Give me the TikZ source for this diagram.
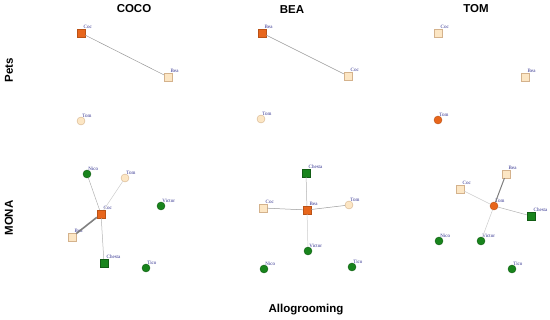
\documentclass[tikz,border=0pt]{standalone}
\usepackage{fontspec}
\setmainfont{Liberation Serif}
\setsansfont{Liberation Sans}
\usepackage{tikz}
\usetikzlibrary{positioning}
\definecolor{focus}{RGB}{232,102,28}
\definecolor{petfill}{RGB}{252,230,196}
\definecolor{petline}{RGB}{212,178,140}
\definecolor{monk}{RGB}{24,132,28}
\definecolor{labblue}{RGB}{44,44,140}
\begin{document}
\begin{tikzpicture}[x=1pt,y=-1pt,
  lab/.style={font=\fontsize{5}{5.5}\selectfont,text=labblue,inner sep=0.3pt,xshift=-2pt},
  sqfoc/.style={draw=focus!80!black,fill=focus,minimum size=8pt,inner sep=0pt},
  sqpet/.style={draw=petline,fill=petfill,minimum size=8pt,inner sep=0pt},
  sqmon/.style={draw=monk!70!black,fill=monk,minimum size=8pt,inner sep=0pt},
  cifoc/.style={circle,draw=focus!80!black,fill=focus,minimum size=8pt,inner sep=0pt},
  cipet/.style={circle,draw=petline,fill=petfill,minimum size=8pt,inner sep=0pt},
  cimon/.style={circle,draw=monk!70!black,fill=monk,minimum size=8pt,inner sep=0pt},
  tie/.style={draw=black!30,line width=0.5pt},
  title/.style={font=\sffamily\bfseries\fontsize{11.5}{13}\selectfont}]
\useasboundingbox (0,0) rectangle (550,320);
% headings
\node[title] (hcoco) at (134,9) {COCO};
\node[title] (hbea) at (292,10) {BEA};
\node[title] (htom) at (476,9) {TOM};
\node[title,rotate=90] (hpets) at (9,70) {Pets};
\node[title,rotate=90] (hmona) at (9,218) {MONA};
\node[title] (hallo) at (306,310) {Allogrooming};
% COCO, pets
\node[sqfoc,label={[lab]north east:Coc}] (cpCoc) at (81,33) {};
\node[sqpet,label={[lab]north east:Bea}] (cpBea) at (168,77) {};
\node[cipet,label={[lab]north east:Tom}] (cpTom) at (81,121) {};
\draw[tie,draw=black!40] (cpCoc) -- (cpBea);
% BEA, pets
\node[sqfoc,label={[lab]north east:Bea}] (bpBea) at (262,33) {};
\node[sqpet,label={[lab]north east:Coc}] (bpCoc) at (348,76) {};
\node[cipet,label={[lab]north east:Tom}] (bpTom) at (261,119) {};
\draw[tie,draw=black!40] (bpBea) -- (bpCoc);
% TOM, pets
\node[sqpet,label={[lab]north east:Coc}] (tpCoc) at (438,33) {};
\node[sqpet,label={[lab]north east:Bea}] (tpBea) at (525,77) {};
\node[cifoc,label={[lab]north east:Tom}] (tpTom) at (438,120) {};
% COCO, MONA
\node[sqfoc,label={[lab]north east:Coc}] (cmCoc) at (101,214) {};
\node[cimon,label={[lab]north east:Nico}] (cmNico) at (87,174) {};
\node[cipet,label={[lab]north east:Tom}] (cmTom) at (125,178) {};
\node[sqpet,label={[lab]north east:Bea}] (cmBea) at (72,237) {};
\node[cimon,label={[lab]north east:Victor}] (cmVictor) at (161,206) {};
\node[sqmon,label={[lab]north east:Chesta}] (cmChesta) at (104,263) {};
\node[cimon,label={[lab]north east:Tico}] (cmTico) at (146,268) {};
\draw[tie] (cmCoc) -- (cmNico);
\draw[tie,draw=black!20] (cmCoc) -- (cmTom);
\draw[tie] (cmCoc) -- (cmChesta);
\draw[tie,draw=black!50,line width=1.6pt] (cmCoc) -- (cmBea);
% BEA, MONA
\node[sqfoc,label={[lab]north east:Bea}] (bmBea) at (307,210) {};
\node[sqmon,label={[lab]north east:Chesta}] (bmChesta) at (306,173) {};
\node[sqpet,label={[lab]north east:Coc}] (bmCoc) at (263,208) {};
\node[cipet,label={[lab]north east:Tom}] (bmTom) at (349,205) {};
\node[cimon,label={[lab]north east:Victor}] (bmVictor) at (308,251) {};
\node[cimon,label={[lab]north east:Nico}] (bmNico) at (264,269) {};
\node[cimon,label={[lab]north east:Tico}] (bmTico) at (352,267) {};
\draw[tie,draw=black!40] (bmBea) -- (bmCoc);
\draw[tie,draw=black!40] (bmBea) -- (bmTom);
\draw[tie] (bmBea) -- (bmChesta);
\draw[tie,draw=black!20] (bmBea) -- (bmVictor);
% TOM, MONA
\node[cifoc,label={[lab]north east:Tom}] (tmTom) at (494,206) {};
\node[sqpet,label={[lab]north east:Bea}] (tmBea) at (506,174) {};
\node[sqpet,label={[lab]north east:Coc}] (tmCoc) at (460,189) {};
\node[sqmon,label={[lab]north east:Chesta}] (tmChesta) at (531,216) {};
\node[cimon,label={[lab]north east:Nico}] (tmNico) at (439,241) {};
\node[cimon,label={[lab]north east:Victor}] (tmVictor) at (481,241) {};
\node[cimon,label={[lab]north east:Tico}] (tmTico) at (512,269) {};
\draw[tie,draw=black!50,line width=1pt] (tmTom) -- (tmBea);
\draw[tie,draw=black!20] (tmTom) -- (tmCoc);
\draw[tie] (tmTom) -- (tmChesta);
\draw[tie,draw=black!20] (tmTom) -- (tmVictor);
\end{tikzpicture}
\end{document}
